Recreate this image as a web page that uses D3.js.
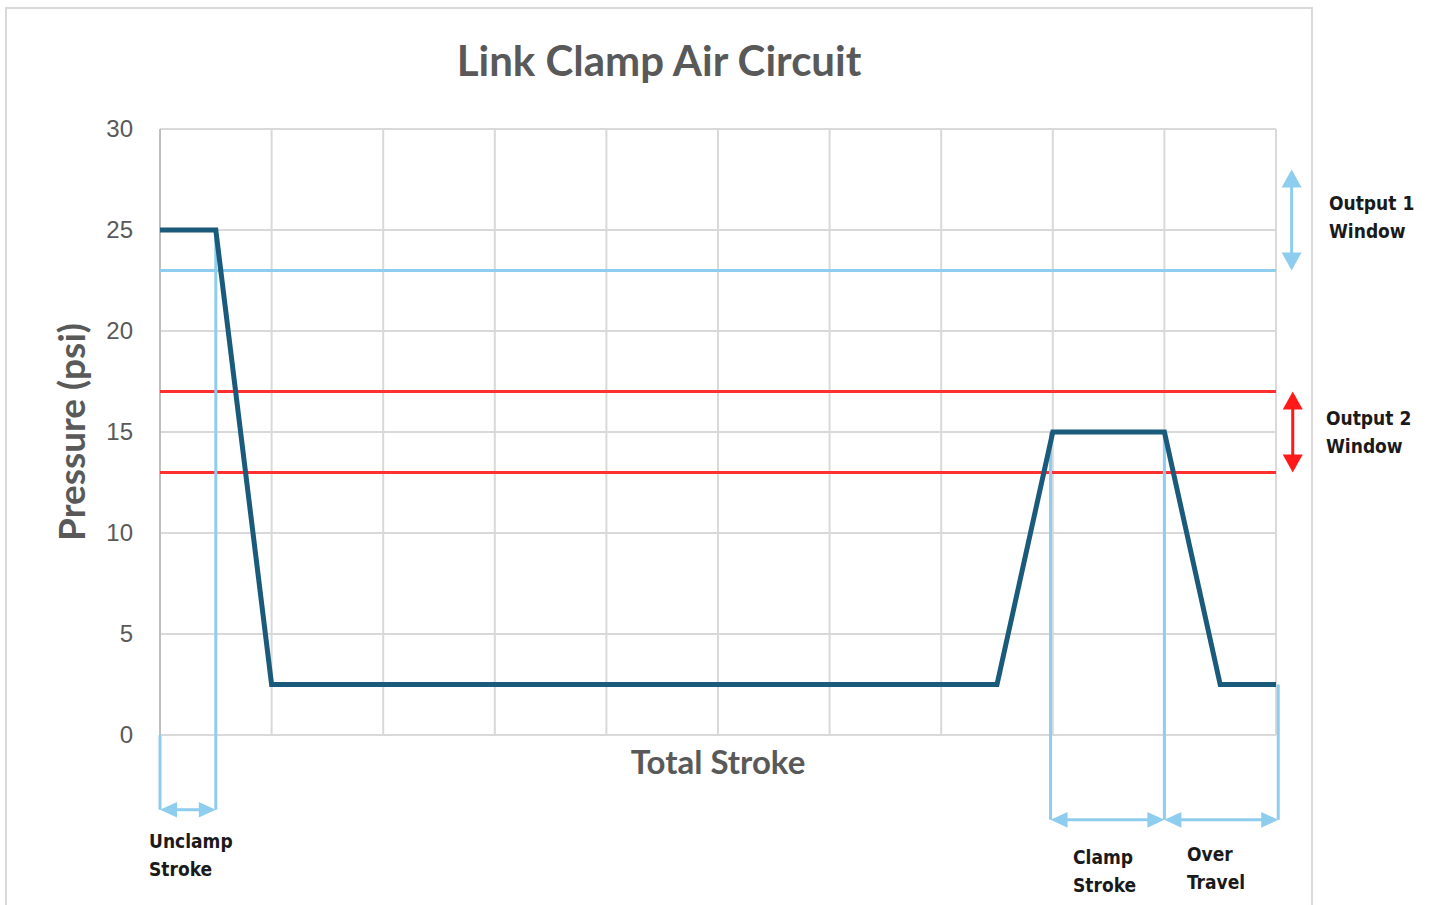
<!DOCTYPE html>
<html><head><meta charset="utf-8">
<script src="https://cdn.jsdelivr.net/npm/d3@7"></script>
<style>body{margin:0;background:#fff}</style>
</head><body>
<svg id="c" width="1430" height="905"></svg>
<script>
const strokePos = [0, 0.5, 1, 7.5, 8, 9, 9.5, 10];
const pressure  = [25, 25, 2.5, 2.5, 15, 15, 2.5, 2.5];
const yTicks = [0, 5, 10, 15, 20, 25, 30];
const xGrid = [0,1,2,3,4,5,6,7,8,9,10];
const output1Level = 23;
const output2Levels = [17, 13];
const output1Window = [28, 23];
const output2Window = [17, 13];
const markers = [
  {x: 0, top: 0, bottom: -3.7},
  {x: 0.5, top: 25, bottom: -3.7},
  {x: 7.98, top: 15, bottom: -4.2},
  {x: 9, top: 15, bottom: -4.2},
  {x: 10.02, top: 2.5, bottom: -4.2}
];
const spans = [
  {x0: 0, x1: 0.5, y: -3.7, label: ["Unclamp","Stroke"], lx: 149, ly: 848},
  {x0: 7.98, x1: 9, y: -4.2, label: ["Clamp","Stroke"], lx: 1073, ly: 864},
  {x0: 9, x1: 10.02, y: -4.2, label: ["Over","Travel"], lx: 1187, ly: 861}
];

const svg = d3.select("#c");
const x = d3.scaleLinear().domain([0,10]).range([160,1276]);
const y = d3.scaleLinear().domain([0,30]).range([735,129]);

// outer frame
svg.append("rect").attr("x",6).attr("y",8).attr("width",1306).attr("height",910)
  .attr("fill","none").attr("stroke","#d9d9d9").attr("stroke-width",2);

// title
svg.append("text").attr("x",659).attr("y",76).attr("text-anchor","middle")
  .attr("font-family","Lato, 'Open Sans', sans-serif").attr("font-weight","bold")
  .attr("font-size",42).attr("fill","#595959").text("Link Clamp Air Circuit");

// gridlines
const g = svg.append("g");
g.selectAll(".hg").data(yTicks).join("line")
  .attr("x1",x(0)).attr("x2",x(10)).attr("y1",d=>y(d)).attr("y2",d=>y(d))
  .attr("stroke","#d9d9d9").attr("stroke-width",2);
g.selectAll(".vg").data(xGrid).join("line")
  .attr("x1",d=>x(d)).attr("x2",d=>x(d)).attr("y1",y(0)).attr("y2",y(30))
  .attr("stroke",d=>d===0?"#bfbfbf":"#d9d9d9").attr("stroke-width",2);

// y axis labels
const yAxis = d3.axisLeft(y).tickValues(yTicks).tickSize(0).tickPadding(27);
const ya = svg.append("g").attr("transform",`translate(${x(0)},0)`).call(yAxis);
ya.select(".domain").remove();
ya.selectAll("text").attr("font-family","'Liberation Sans', Arial, sans-serif")
  .attr("font-size",24).attr("fill","#595959");

svg.append("text").attr("transform","translate(85,432) rotate(-90)").attr("text-anchor","middle")
  .attr("font-family","Lato, 'Open Sans', sans-serif").attr("font-weight","bold")
  .attr("font-size",37).attr("fill","#595959").text("Pressure (psi)");
svg.append("text").attr("x",718).attr("y",774).attr("text-anchor","middle")
  .attr("font-family","Lato, 'Open Sans', sans-serif").attr("font-weight","bold")
  .attr("font-size",33).attr("fill","#595959").text("Total Stroke");

// threshold lines
svg.append("line").attr("x1",x(0)).attr("x2",x(10)).attr("y1",y(output1Level)).attr("y2",y(output1Level))
  .attr("stroke","#8ecdee").attr("stroke-width",3);
svg.selectAll(".red").data(output2Levels).join("line")
  .attr("x1",x(0)).attr("x2",x(10)).attr("y1",d=>y(d)).attr("y2",d=>y(d))
  .attr("stroke","#ff3030").attr("stroke-width",3);

// marker verticals
svg.selectAll(".mk").data(markers).join("line")
  .attr("x1",d=>x(d.x)).attr("x2",d=>x(d.x)).attr("y1",d=>y(d.top)).attr("y2",d=>y(d.bottom))
  .attr("stroke","#8ecdee").attr("stroke-width",3);

// data line
const pts = strokePos.map((v,i)=>[v,pressure[i]]);
svg.append("path").datum(pts)
  .attr("d", d3.line().x(d=>x(d[0])).y(d=>y(d[1])))
  .attr("fill","none").attr("stroke","#1a5b7b").attr("stroke-width",5).attr("stroke-linejoin","miter");

// arrows
function hArrow(x0,x1,yy,col){
  const h=11, w=17;
  svg.append("line").attr("x1",x0+w-2).attr("x2",x1-w+2).attr("y1",yy).attr("y2",yy)
    .attr("stroke",col).attr("stroke-width",3);
  svg.append("path").attr("d",`M${x0},${yy} L${x0+w},${yy-h/1.4} L${x0+w},${yy+h/1.4} Z`).attr("fill",col);
  svg.append("path").attr("d",`M${x1},${yy} L${x1-w},${yy-h/1.4} L${x1-w},${yy+h/1.4} Z`).attr("fill",col);
}
function vArrow(xx,y0,y1,col){
  const h=18, w=10;
  svg.append("line").attr("x1",xx).attr("x2",xx).attr("y1",y0+h-2).attr("y2",y1-h+2)
    .attr("stroke",col).attr("stroke-width",3);
  svg.append("path").attr("d",`M${xx},${y0} L${xx-w},${y0+h} L${xx+w},${y0+h} Z`).attr("fill",col);
  svg.append("path").attr("d",`M${xx},${y1} L${xx-w},${y1-h} L${xx+w},${y1-h} Z`).attr("fill",col);
}
spans.forEach(s=>hArrow(x(s.x0),x(s.x1),y(s.y),"#8ecdee"));
vArrow(x(10.14),y(output1Window[0]),y(output1Window[1]),"#8ecdee");
vArrow(x(10.15),y(output2Window[0]),y(output2Window[1]),"#ff1a1a");

// annotation labels
const annFont = "'DejaVu Sans Condensed','DejaVu Sans',sans-serif";
function label(lines,lx,ly){
  const t = svg.append("text").attr("font-family",annFont).attr("font-weight","bold")
    .attr("font-size",19).attr("fill","#1a1a1a");
  lines.forEach((l,i)=>t.append("tspan").attr("x",lx).attr("y",ly+i*28).text(l));
}
spans.forEach(s=>label(s.label,s.lx,s.ly));
label(["Output 1","Window"],1329,210);
label(["Output 2","Window"],1326,425);
</script>
</body></html>
